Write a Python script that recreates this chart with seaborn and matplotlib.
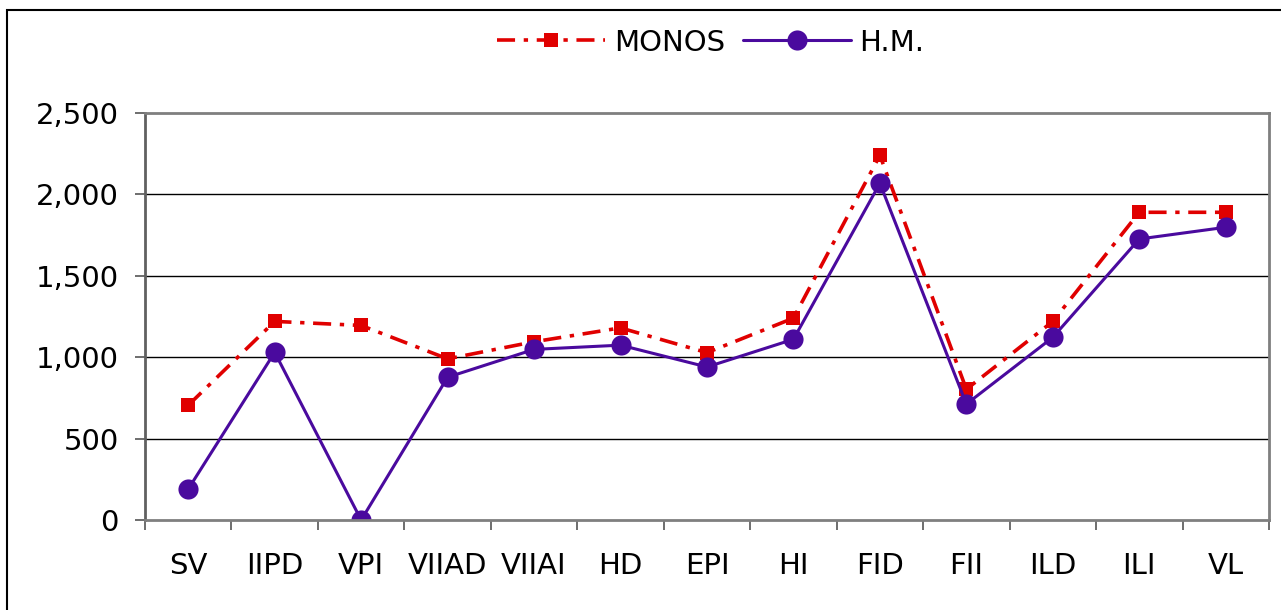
import matplotlib
matplotlib.use("Agg")
import matplotlib.pyplot as plt
from matplotlib.patches import Rectangle
import seaborn as sns
import pandas as pd

categories = ['SV', 'IIPD', 'VPI', 'VIIAD', 'VIIAI', 'HD', 'EPI',
              'HI', 'FID', 'FII', 'ILD', 'ILI', 'VL']
monos = [705, 1220, 1195, 990, 1095, 1180, 1028, 1240, 2240, 803, 1220, 1890, 1890]
hm = [190, 1030, 0, 877, 1048, 1074, 940, 1110, 2068, 712, 1122, 1726, 1798]
y_ticks = [0, 500, 1000, 1500, 2000, 2500]

df = pd.DataFrame({'pos': range(len(categories)), 'cat': categories,
                   'MONOS': monos, 'H.M.': hm})

sns.set_theme(style='white')
plt.rcParams['font.family'] = ['DejaVu Sans']
plt.rcParams['text.color'] = 'black'
plt.rcParams['xtick.labelcolor'] = 'black'
plt.rcParams['ytick.labelcolor'] = 'black'

fig = plt.figure(figsize=(12.81, 6.10), dpi=100)
ax = fig.add_axes([0.1132, 0.1475, 0.8774, 0.6673])

red = '#E00000'
purple = '#4A0A9E'

sns.lineplot(data=df, x='pos', y='MONOS', ax=ax, color=red, linewidth=2.6,
             linestyle=(0, (5, 2.4, 1.2, 2.4)), marker='s', markersize=10,
             markeredgewidth=0, label='MONOS', sort=False)
sns.lineplot(data=df, x='pos', y='H.M.', ax=ax, color=purple, linewidth=2.2,
             marker='o', markersize=14.5, markeredgewidth=0,
             label='H.M.', sort=False)

ax.set_xlim(-0.5, len(categories) - 0.5)
ax.set_ylim(0, 2500)
ax.set_yticks(y_ticks)
ax.set_yticklabels([f'{v:,}' for v in y_ticks])
ax.set_xticks(range(len(categories)))
ax.set_xticklabels(categories)
ax.set_xticks([i - 0.5 for i in range(len(categories) + 1)], minor=True)
ax.set_xlabel('')
ax.set_ylabel('')

for v in y_ticks[1:-1]:
    ax.axhline(v, color='black', linewidth=1, zorder=0)

ax.tick_params(axis='x', which='major', length=0, pad=23, labelsize=21,
               labelcolor='black')
ax.tick_params(axis='x', which='minor', bottom=True, length=7, width=1.2,
               color='#555555')
ax.tick_params(axis='y', left=True, length=7, width=1.2, color='#555555',
               pad=12, labelsize=21, labelcolor='black')

for side in ['left', 'bottom', 'top', 'right']:
    ax.spines[side].set_visible(True)
    ax.spines[side].set_color('#7f7f7f')
    ax.spines[side].set_linewidth(2)
ax.spines['left'].set_color('#606060')

leg = ax.legend(loc='center', bbox_to_anchor=(0.555, 0.93),
                bbox_transform=fig.transFigure, ncol=2, frameon=False,
                fontsize=21, handlelength=3.7, handletextpad=0.3,
                columnspacing=0.6)
for t in leg.get_texts():
    t.set_color('black')

fig.patches.append(Rectangle((7 / 1281, -0.01), 1.1, 1 - 10 / 610 + 0.01,
                             transform=fig.transFigure, fill=False,
                             edgecolor='black', linewidth=1.5))

fig.savefig('out.png', dpi=100)
